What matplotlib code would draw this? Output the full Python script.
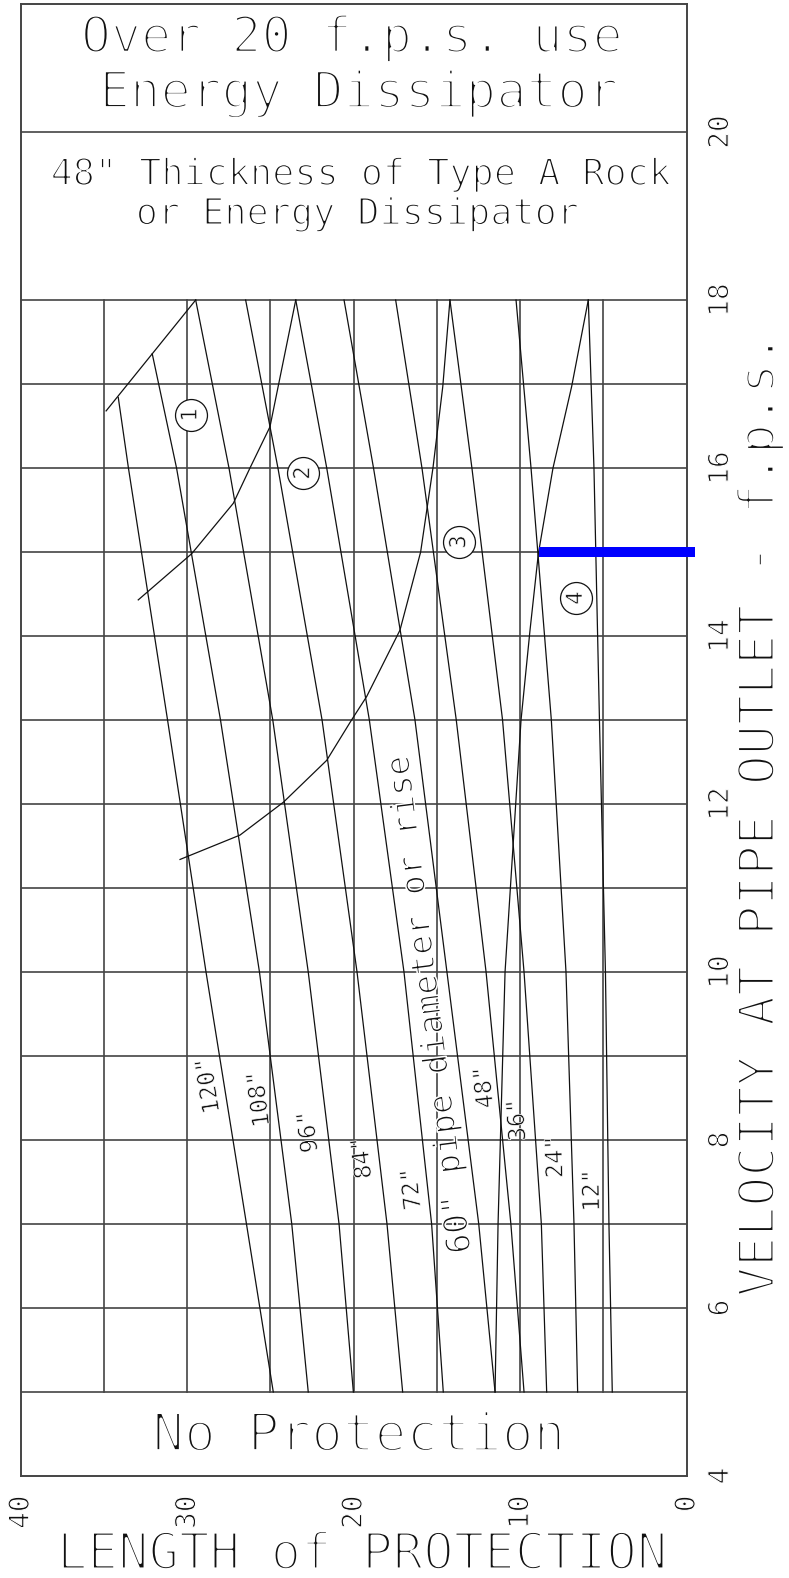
import math
import matplotlib
matplotlib.use('Agg')
import matplotlib.pyplot as plt
import matplotlib.patheffects as pe
import numpy as np

plt.rcParams['font.family'] = ['DejaVu Sans Mono', 'DejaVu Sans']

# linie średnic rur (x = długość ochrony, y = prędkość)
pipe_labels = ['120"', '108"', '96"', '84"', '72"',
               '60" pipe diameter or rise', '48"', '36"', '24"', '12"']
pipe_y = [[16.84, 16, 13, 10, 7, 5],
          [17.36, 16, 13, 10, 7, 5]] + [[18, 16, 13, 10, 7, 5]] * 8
pipe_x = [
    [34.14, 33.53, 31.18, 28.87, 26.44, 24.83],
    [32.10, 30.64, 28.00, 25.66, 23.72, 22.73],
    [29.49, 27.49, 24.86, 22.73, 20.88, 20.02],
    [26.49, 24.55, 21.90, 19.80, 18.00, 17.06],
    [23.48, 21.62, 19.06, 16.98, 15.32, 14.62],
    [20.58, 18.81, 16.32, 14.40, 12.49, 11.51],
    [17.48, 15.90, 13.84, 12.05, 10.56, 9.77],
    [14.22, 12.90, 11.06, 9.77, 8.73, 8.41],
    [10.25, 9.35, 8.13, 7.25, 6.77, 6.55],
    [5.91, 5.57, 5.24, 4.88, 4.67, 4.47],
]
label_x = [28.74, 25.69, 22.74, 19.50, 16.53, 15.42, 12.17, 10.19, 7.91, 5.69]
label_y = [8.65, 8.49, 8.10, 7.79, 7.42, 9.62, 8.63, 8.24, 7.80, 7.40]

# granice stref 1-4
edge_x = [34.87, 29.49]
edge_y = [16.68, 18.0]
c12_x = [23.48, 25.03, 26.23, 27.23, 29.73, 32.94]
c12_y = [18.0, 16.49, 16.0, 15.58, 14.98, 14.43]
c23_x = [14.22, 14.65, 15.24, 15.98, 17.22, 19.22, 20.13, 21.62, 24.23, 26.83, 30.43]
c23_y = [18.0, 16.97, 16.0, 15.0, 14.07, 13.28, 13.0, 12.52, 12.02, 11.63, 11.34]
c34_x = [5.91, 6.91, 8.03, 8.91, 9.41, 9.95, 10.91, 11.33, 11.51]
c34_y = [18.0, 16.97, 16.0, 14.98, 14.07, 13.0, 10.0, 7.0, 5.0]

zone_x = [29.79, 23.03, 13.66, 6.65]
zone_y = [16.63, 15.94, 15.12, 14.45]
zone_txt = ['1', '2', '3', '4']

# przykład odczytu (niebieska linia)
blue_x = [8.9, -0.5]
blue_y = [15.0, 15.0]

h_grid = list(range(5, 19)) + [20]
v_grid = [5, 10, 15, 20, 25, 30, 35]
x_ticks = [0, 10, 20, 30, 40]
y_ticks = [4, 6, 8, 10, 12, 14, 16, 18, 20]

GRID = '#444444'
INK = '#111111'


def cienki(fs):
    """Ścienia glify (biały obrys), żeby przypominały czcionkę CAD."""
    erode = max(0.125 * fs - 1.4, 0.0)
    return [pe.Stroke(linewidth=erode * 0.72, foreground='white')]


fig = plt.figure(figsize=(7.89, 15.78), dpi=100)
ax = fig.add_axes([20.7 / 789, 102 / 1578, 666 / 789, 1472 / 1578])
ax.set_xlim(40, 0)
ax.set_ylim(4, 21.524)

for y in h_grid:
    ax.plot([40, 0], [y, y], color=GRID, lw=1.2, zorder=1)
for x in v_grid:
    ax.plot([x, x], [5, 18], color=GRID, lw=1.2, zorder=1)

for xs, ys in zip(pipe_x, pipe_y):
    ax.plot(xs, ys, color=INK, lw=0.9, zorder=2)
for xs, ys in [(edge_x, edge_y), (c12_x, c12_y), (c23_x, c23_y), (c34_x, c34_y)]:
    ax.plot(xs, ys, color=INK, lw=0.9, zorder=2)


def kat_linii(xs, ys, yc):
    """Kąt linii w pikselach w pobliżu danej prędkości."""
    ys_a = np.array(ys)[::-1]
    xs_a = np.array(xs)[::-1]
    x0 = np.interp(yc - 0.5, ys_a, xs_a)
    x1 = np.interp(yc + 0.5, ys_a, xs_a)
    p0 = ax.transData.transform((x0, yc - 0.5))
    p1 = ax.transData.transform((x1, yc + 0.5))
    return math.degrees(math.atan2(p1[1] - p0[1], p1[0] - p0[0]))


for i, txt in enumerate(pipe_labels):
    rot = kat_linii(pipe_x[i], pipe_y[i], label_y[i])
    size = 24 if len(txt) > 5 else 17
    ax.text(label_x[i], label_y[i], txt, rotation=rot, rotation_mode='anchor',
            ha='center', va='center', fontsize=size, color=INK, zorder=4,
            path_effects=cienki(size))

ax.plot(zone_x, zone_y, 'o', ms=23, mfc='white', mec=INK, mew=0.9,
        ls='none', zorder=5)
for x, y, t in zip(zone_x, zone_y, zone_txt):
    ax.text(x, y, t, rotation=90, ha='center', va='center',
            fontsize=16, color=INK, zorder=6, path_effects=cienki(16))

ax.plot(blue_x, blue_y, color='#0000ff', lw=7.2, solid_capstyle='butt',
        clip_on=False, zorder=7)

# opisy stref
opisy = [
    (20.1, 20.95, 'Over 20 f.p.s. use', 36),
    (19.7, 20.29, 'Energy Dissipator', 36.5),
    (19.6, 19.37, '48" Thickness of Type A Rock', 26.5),
    (19.8, 18.90, 'or Energy Dissipator', 26.5),
    (19.7, 4.30, 'No Protection', 38),
]
for x, y, txt, fs in opisy:
    ax.text(x, y, txt, ha='center', va='baseline', fontsize=fs, color=INK,
            path_effects=cienki(fs))

for s in ax.spines.values():
    s.set_color(GRID)
    s.set_linewidth(1.4)

ax.set_xticks(x_ticks)
ax.set_xticklabels([str(v) for v in x_ticks], rotation=90)
ax.set_yticks(y_ticks)
ax.yaxis.tick_right()
ax.set_yticklabels([str(v) for v in y_ticks], rotation=90, va='center')
ax.tick_params(axis='x', length=0, pad=14, labelsize=20, labelcolor=INK)
ax.tick_params(axis='y', length=0, pad=14, labelsize=20, labelcolor=INK)
for lab in ax.get_xticklabels() + ax.get_yticklabels():
    lab.set_path_effects(cienki(20))

fig.text(760 / 789, 1 - 815 / 1578, 'VELOCITY AT PIPE OUTLET - f.p.s.',
         rotation=90, ha='center', va='center', fontsize=36, color=INK,
         path_effects=cienki(36))
fig.text(362 / 789, 1 - 1555 / 1578, 'LENGTH of PROTECTION',
         ha='center', va='center', fontsize=36.5, color=INK,
         path_effects=cienki(36.5))

fig.savefig('out.png', dpi=100)
